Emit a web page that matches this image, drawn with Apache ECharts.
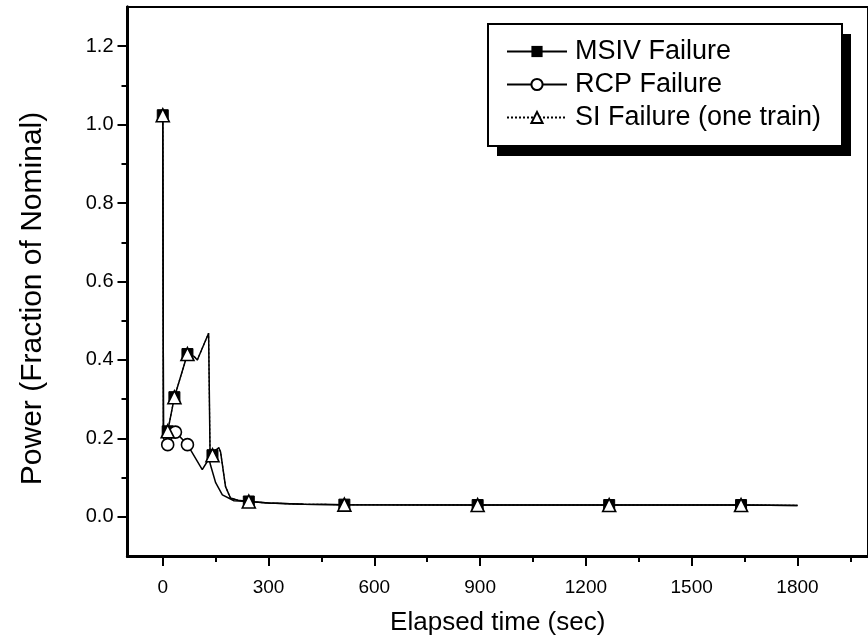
<!DOCTYPE html>
<html>
<head>
<meta charset="utf-8">
<script src="https://cdn.jsdelivr.net/npm/echarts@6/dist/echarts.min.js"></script>
<style>
  html, body { margin: 0; padding: 0; background: #fff; }
  #chart { width: 868px; height: 643px; }
</style>
</head>
<body>
<div id="chart"></div>
<script>
// Reactor power after the initiating event, three failure cases
const msivTime  = [0, 2, 14, 33, 70, 89, 98, 130, 134, 141, 150, 159, 164, 178, 192, 213, 244, 300, 400, 515, 893, 1266, 1640, 1800];
const msivPower = [1.024, 0.21, 0.218, 0.305, 0.415, 0.409, 0.400, 0.468, 0.17, 0.157, 0.170, 0.176, 0.165, 0.077, 0.048, 0.042, 0.039, 0.035, 0.032, 0.031, 0.030, 0.030, 0.030, 0.029];
const msivMarks = [0, 14, 33, 70, 141, 244, 515, 893, 1266, 1640];

const rcpTime  = [0, 2, 14, 36, 70, 112, 131, 136, 150, 169, 202, 244, 300, 400, 515, 893, 1266, 1640, 1800];
const rcpPower = [1.024, 0.20, 0.184, 0.216, 0.184, 0.120, 0.148, 0.130, 0.087, 0.056, 0.041, 0.039, 0.035, 0.032, 0.031, 0.030, 0.030, 0.030, 0.029];
const rcpMarks = [14, 36, 70];

const siTime  = [0, 2, 14, 33, 70, 89, 98, 130, 134, 141, 150, 159, 164, 178, 192, 213, 244, 300, 400, 515, 893, 1266, 1640, 1800];
const siPower = [1.024, 0.21, 0.218, 0.305, 0.415, 0.409, 0.400, 0.468, 0.17, 0.157, 0.170, 0.176, 0.165, 0.077, 0.048, 0.042, 0.039, 0.035, 0.032, 0.031, 0.030, 0.030, 0.030, 0.029];
const siMarks = [0, 14, 33, 70, 141, 244, 515, 893, 1266, 1640];

const seriesNames = ['MSIV Failure', 'RCP Failure', 'SI Failure (one train)'];

const xMajor = [0, 300, 600, 900, 1200, 1500, 1800];
const xMinor = [150, 450, 750, 1050, 1350, 1650, 1950];
const yMajor = [0.0, 0.2, 0.4, 0.6, 0.8, 1.0, 1.2];
const yMinor = [0.1, 0.3, 0.5, 0.7, 0.9, 1.1];

const FONT = '"Liberation Sans", Arial, sans-serif';
const X_MIN = -100, X_MAX = 2000, Y_MIN = -0.1, Y_MAX = 1.3;

function pairs(ts, vs) { return ts.map((t, i) => [t, vs[i]]); }
function sizeAt(marks, size) {
  const set = new Set(marks);
  return function (val) { return set.has(val[0]) ? size : 0; };
}

const chart = echarts.init(document.getElementById('chart'), null, { renderer: 'canvas' });

const baseX = {
  type: 'value', min: X_MIN, max: X_MAX,
  splitLine: { show: false },
  axisLine: { show: true, onZero: false, lineStyle: { color: '#000', width: 3 } }
};
const baseY = {
  type: 'value', min: Y_MIN, max: Y_MAX,
  splitLine: { show: false },
  axisLine: { show: true, onZero: false, lineStyle: { color: '#000', width: 3 } }
};

// legend frame with a hard drop shadow
const LEG = { x: 488, y: 24, w: 354, h: 122, dx: 9, dy: 10 };

chart.setOption({
  animation: false,
  backgroundColor: '#fff',
  grid: {
    left: 127.5, top: 7, width: 747, height: 549,
    show: true, borderColor: '#000', borderWidth: 2, backgroundColor: 'transparent'
  },
  graphic: [
    { type: 'rect', z: 10, silent: true,
      shape: { x: LEG.x + LEG.dx, y: LEG.y + LEG.dy, width: LEG.w, height: LEG.h },
      style: { fill: '#000' } },
    { type: 'rect', z: 11, silent: true,
      shape: { x: LEG.x, y: LEG.y, width: LEG.w, height: LEG.h },
      style: { fill: '#fff', stroke: '#000', lineWidth: 2 } }
  ],
  legend: {
    z: 20,
    orient: 'vertical',
    left: 506, top: 38,
    data: seriesNames,
    itemWidth: 60, itemHeight: 14, itemGap: 6,
    padding: 0,
    textStyle: { fontFamily: FONT, fontSize: 27, color: '#000', padding: [0, 0, 0, 3] }
  },
  xAxis: [
    Object.assign({}, baseX, {
      name: 'Elapsed time (sec)', nameLocation: 'middle', nameGap: 54,
      nameTextStyle: { fontFamily: FONT, fontSize: 26, color: '#000' },
      axisTick: { show: true, inside: false, length: 10, customValues: xMajor, lineStyle: { color: '#000', width: 2 } },
      axisLabel: { show: true, customValues: xMajor, margin: 22, fontFamily: FONT, fontSize: 19, color: '#000',
        formatter: v => String(v) }
    }),
    Object.assign({}, baseX, {
      position: 'bottom',
      axisTick: { show: true, inside: false, length: 6, customValues: xMinor, lineStyle: { color: '#000', width: 2 } },
      axisLabel: { show: false }
    })
  ],
  yAxis: [
    Object.assign({}, baseY, {
      name: 'Power (Fraction of Nominal)', nameLocation: 'middle', nameGap: 80,
      nameTextStyle: { fontFamily: FONT, fontSize: 30, color: '#000', padding: [0, 34, 0, 0] },
      axisTick: { show: true, inside: false, length: 10, customValues: yMajor, lineStyle: { color: '#000', width: 2 } },
      axisLabel: { show: true, customValues: yMajor, margin: 14, fontFamily: FONT, fontSize: 20, color: '#000',
        formatter: v => v.toFixed(1) }
    }),
    Object.assign({}, baseY, {
      position: 'left',
      axisTick: { show: true, inside: false, length: 6, customValues: yMinor, lineStyle: { color: '#000', width: 2 } },
      axisLabel: { show: false }
    })
  ],
  series: [
    {
      name: seriesNames[0], type: 'line', z: 2,
      data: pairs(msivTime, msivPower),
      showAllSymbol: true, symbol: 'rect', symbolSize: sizeAt(msivMarks, 11),
      itemStyle: { color: '#000', borderColor: '#000' },
      lineStyle: { color: '#000', width: 1.5, type: 'solid' }
    },
    {
      name: seriesNames[1], type: 'line', z: 3,
      data: pairs(rcpTime, rcpPower),
      showAllSymbol: true, symbol: 'circle', symbolSize: sizeAt(rcpMarks, 12),
      itemStyle: { color: '#fff', borderColor: '#000', borderWidth: 1.6 },
      lineStyle: { color: '#000', width: 1.5, type: 'solid' }
    },
    {
      name: seriesNames[2], type: 'line', z: 4,
      data: pairs(siTime, siPower),
      showAllSymbol: true, symbol: 'triangle', symbolSize: sizeAt(siMarks, 13),
      itemStyle: { color: '#fff', borderColor: '#000', borderWidth: 1.6 },
      lineStyle: { color: '#000', width: 1.2, type: [2, 2] }
    }
  ]
});
</script>
</body>
</html>
